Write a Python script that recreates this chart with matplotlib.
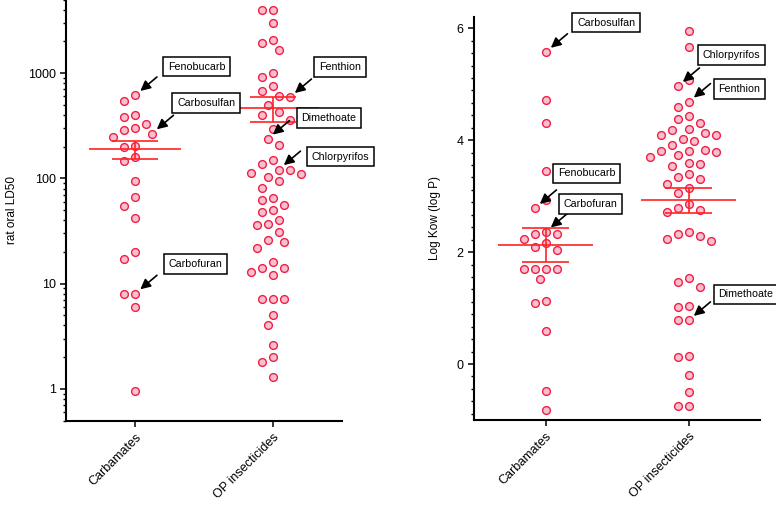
import numpy as np
import matplotlib
matplotlib.use('Agg')
import matplotlib.pyplot as plt
from matplotlib.ticker import LogLocator, FixedLocator, AutoMinorLocator, FuncFormatter, NullFormatter

plt.rcParams['font.family'] = ['Liberation Sans', 'DejaVu Sans']

# ---- data ----
groups = ['Carbamates', 'OP insecticides']

ld50_carb = [613, 537, 402, 379, 328, 298, 285, 265, 248, 204, 200, 158, 146,
             95, 66, 55, 42, 20, 17, 8, 8, 6, 0.95]
ld50_op = [4000, 4000, 2960, 2070, 1950, 1640, 1000, 916, 757, 669, 600, 586,
           497, 429, 399, 355, 296, 236, 207, 150, 136, 121, 119, 113, 111, 103,
           95, 81, 65, 62, 56, 50, 48, 40, 37, 36, 31, 26, 25, 22, 16, 14, 14,
           13, 12, 7.1, 7.1, 7.1, 5.0, 4.0, 2.6, 2.0, 1.8, 1.3]

kow_carb = [5.57, 4.71, 4.30, 3.44, 2.93, 2.78, 2.36, 2.32, 2.32, 2.23, 2.16,
            2.09, 2.04, 1.70, 1.70, 1.70, 1.70, 1.52, 1.13, 1.09, 0.59, -0.49, -0.82]
kow_op = [5.95, 5.67, 5.07, 4.96, 4.68, 4.59, 4.44, 4.38, 4.31, 4.20, 4.19, 4.13,
          4.10, 4.09, 4.02, 3.99, 3.91, 3.83, 3.80, 3.80, 3.78, 3.73, 3.70, 3.60,
          3.57, 3.54, 3.40, 3.35, 3.30, 3.21, 3.15, 3.05, 2.86, 2.78, 2.75, 2.72,
          2.36, 2.32, 2.29, 2.23, 2.19, 1.53, 1.47, 1.37, 1.04, 1.01, 0.78, 0.78,
          0.15, 0.12, -0.20, -0.50, -0.75, -0.75]

ld50_names = ['Fenobucarb', 'Carbosulfan', 'Carbofuran', 'Fenthion', 'Dimethoate', 'Chlorpyrifos']
ld50_name_group = [0, 0, 0, 1, 1, 1]
ld50_name_value = [613, 265, 8, 586, 236, 121]

kow_names = ['Carbosulfan', 'Fenobucarb', 'Carbofuran', 'Chlorpyrifos', 'Fenthion', 'Dimethoate']
kow_name_group = [0, 0, 0, 1, 1, 1]
kow_name_value = [5.57, 2.78, 2.36, 4.96, 4.68, 0.78]

edge_col = '#ee2046'
face_col = '#f8bfce'
bar_col = '#ff2323'


def swarm(ax, values, center, step=5.5, dist=11.0):
    vals = np.asarray(values, dtype=float)
    ys = ax.transData.transform(np.column_stack([np.full(len(vals), center), vals]))[:, 1]
    order = np.argsort(-ys)
    cands = [0]
    for n in range(1, 40):
        cands += [-n, n]
    px, py = [], []
    offs = np.zeros(len(vals))
    for i in order:
        for c in cands:
            x = c * step
            if all((x - a) ** 2 + (ys[i] - b) ** 2 >= dist ** 2 for a, b in zip(px, py)):
                break
        px.append(x)
        py.append(ys[i])
        offs[i] = x
    unit = ax.transData.transform((1, 0))[0] - ax.transData.transform((0, 0))[0]
    return center + offs / unit


def draw_panel(ax, data, names, name_group, name_value, box_offsets):
    xs_all = []
    for gi, vals in enumerate(data):
        c = gi + 1
        xs = swarm(ax, vals, c)
        xs_all.append(xs)
        ax.scatter(xs, vals, s=5.6 ** 2, facecolor=face_col, edgecolor=edge_col,
                   linewidth=1.0, zorder=2, clip_on=False)
        v = np.asarray(vals, dtype=float)
        m = v.mean()
        sem = v.std(ddof=1) / np.sqrt(len(v))
        ax.hlines(m, c - 0.33, c + 0.33, color=bar_col, lw=1.2, zorder=3)
        ax.hlines([m - sem, m + sem], c - 0.165, c + 0.165, color=bar_col, lw=1.2, zorder=3)
        ax.vlines(c, m - sem, m + sem, color=bar_col, lw=1.2, zorder=3)

    for name, g, val, off in zip(names, name_group, name_value, box_offsets):
        vals = np.asarray(data[g], dtype=float)
        i = int(np.argmin(np.abs(vals - val)))
        x, y = xs_all[g][i], vals[i]
        ax.annotate('', xy=(x, y), xytext=(15.8, 13.3), textcoords='offset points',
                    arrowprops=dict(arrowstyle='-|>,head_length=0.5,head_width=0.25',
                                    color='black', lw=1.2, shrinkA=0, shrinkB=5,
                                    mutation_scale=12), zorder=4)
        ax.annotate(name, xy=(x, y), xytext=off, textcoords='offset points',
                    ha='left', va='center', fontsize=7.7, zorder=5,
                    bbox=dict(boxstyle='square,pad=0.45', fc='white', ec='black', lw=1.1),
                    annotation_clip=False)

    ax.set_xlim(0.5, 2.5)
    ax.set_xticks([1, 2])
    ax.set_xticklabels(groups, rotation=45, ha='right', rotation_mode='anchor', fontsize=9)
    for s in ['top', 'right']:
        ax.spines[s].set_visible(False)
    for s in ['left', 'bottom']:
        ax.spines[s].set_linewidth(1.5)
    ax.tick_params(axis='both', which='major', length=4, width=1.1, labelsize=9)
    ax.tick_params(axis='y', which='minor', length=2.3, width=1.0)
    ax.tick_params(axis='x', which='minor', bottom=False)


fig = plt.figure(figsize=(7.76, 5.08), dpi=100)

ax1 = fig.add_axes([66 / 776, 87.5 / 508, 276 / 776, 421 / 508])
ax1.set_yscale('log')
ax1.set_xlim(0.5, 2.5)
ax1.set_ylim(0.5, 5000)
ax1.yaxis.set_major_locator(LogLocator(base=10, numticks=10))
ax1.yaxis.set_minor_locator(LogLocator(base=10, subs=np.arange(2, 10), numticks=20))
ax1.yaxis.set_major_formatter(FuncFormatter(lambda v, p: '%g' % v))
ax1.yaxis.set_minor_formatter(NullFormatter())
ax1.set_ylabel('rat oral LD50', fontsize=8.5, labelpad=7)

ax2 = fig.add_axes([474 / 776, 88 / 508, 286 / 776, 403 / 508])
ax2.set_xlim(0.5, 2.5)
ax2.set_ylim(-1, 6.2)
ax2.yaxis.set_major_locator(FixedLocator([0, 2, 4, 6]))
ax2.yaxis.set_minor_locator(AutoMinorLocator(9))
ax2.set_ylabel('Log Kow (log P)', fontsize=8.5, labelpad=11)

# box offsets (points) for the text labels, relative to the labelled point
ld50_boxes = [(23.5, 20.7), (18.5, 22.3), (24.3, 21.6), (21.1, 22.1), (24.5, 15.3), (24.0, 9.4)]
kow_boxes = [(22.8, 21.4), (17.0, 25.2), (13.0, 19.9), (18.0, 22.8), (21.6, 9.6), (21.6, 18.7)]

draw_panel(ax1, [ld50_carb, ld50_op], ld50_names, ld50_name_group, ld50_name_value, ld50_boxes)
draw_panel(ax2, [kow_carb, kow_op], kow_names, kow_name_group, kow_name_value, kow_boxes)

fig.savefig('out.png', dpi=100)
